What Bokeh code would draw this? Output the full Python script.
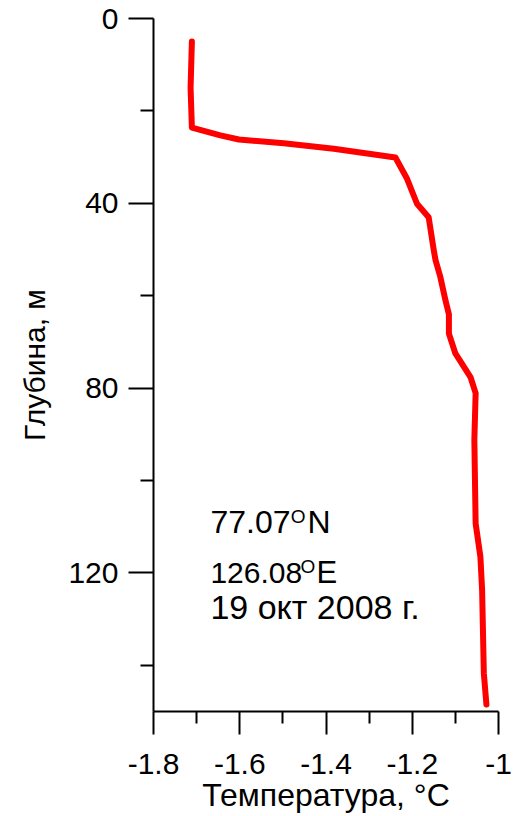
from bokeh.plotting import figure
from bokeh.models import Range1d, FixedTicker, Label
from bokeh.embed import file_html
from bokeh.resources import INLINE

# ---- data ----
depth = [5.0, 15.0, 23.6, 25.3, 26.2, 27.0, 28.2, 30.1, 34.7, 40.1, 43.0, 50.2,
         52.3, 55.9, 61.0, 64.0, 68.2, 72.5, 77.6, 81.1, 91.2, 109.3, 116.5,
         123.7, 141.7, 148.5]
temperature = [-1.711, -1.714, -1.711, -1.645, -1.602, -1.498, -1.382, -1.239,
               -1.212, -1.189, -1.162, -1.150, -1.146, -1.135, -1.123, -1.115,
               -1.115, -1.100, -1.065, -1.053, -1.056, -1.053, -1.042, -1.038,
               -1.034, -1.028]

x_ticks = [-1.8, -1.6, -1.4, -1.2, -1.0]
x_tick_labels = ["-1.8", "-1.6", "-1.4", "-1.2", "-1"]
x_minor = [-1.7, -1.5, -1.3, -1.1]
y_ticks = [0, 40, 80, 120]
y_minor = [20, 60, 100, 140]

FONT = "Liberation Sans"

p = figure(width=521, height=816, output_backend="svg", toolbar_location=None,
           x_range=Range1d(-1.8, -1.0), y_range=Range1d(150, 0),
           min_border_left=153, min_border_right=23,
           min_border_top=18, min_border_bottom=105)
p.outline_line_color = None
p.xgrid.visible = False
p.ygrid.visible = False
p.background_fill_color = "white"
p.border_fill_color = "white"

p.line(temperature, depth, line_color="#ff0000", line_width=6,
       line_join="round", line_cap="round")

for ax, ticks, minor in ((p.xaxis[0], x_ticks, x_minor), (p.yaxis[0], y_ticks, y_minor)):
    ax.ticker = FixedTicker(ticks=ticks, minor_ticks=minor)
    ax.axis_line_color = "black"
    ax.axis_line_width = 2
    ax.major_tick_line_color = "black"
    ax.major_tick_line_width = 2
    ax.minor_tick_line_color = "black"
    ax.minor_tick_line_width = 2
    ax.major_tick_in = 0
    ax.minor_tick_in = 0
    ax.major_label_text_font = FONT
    ax.major_label_text_font_size = "30px"
    ax.major_label_text_color = "black"
    ax.axis_label_text_font = FONT
    ax.axis_label_text_font_style = "normal"
    ax.axis_label_text_color = "black"

p.xaxis[0].axis_label_text_font_size = "32px"
p.yaxis[0].axis_label_text_font_size = "30px"
p.xaxis[0].major_tick_out = 23
p.xaxis[0].minor_tick_out = 12
p.yaxis[0].major_tick_out = 25
p.yaxis[0].minor_tick_out = 13
p.xaxis[0].major_label_overrides = {t: l for t, l in zip(x_ticks, x_tick_labels)}
p.xaxis[0].major_label_standoff = 19
p.yaxis[0].major_label_standoff = 10
p.xaxis[0].axis_label = "Температура, °C"
p.yaxis[0].axis_label = "Глубина, м"
p.xaxis[0].axis_label_standoff = 0
p.yaxis[0].axis_label_standoff = 14

# ---- annotation text ----
def lab(x, y, text, size):
    p.add_layout(Label(x=x, y=y, text=text, text_font=FONT, text_font_size=size,
                       text_color="black", text_baseline="alphabetic",
                       text_align="left"))

lab(-1.668, 109.0, "77.07", "32px")
lab(-1.482, 107.8, "O", "19px")
lab(-1.443, 109.0, "N", "32px")
lab(-1.668, 120.0, "126.08", "30px")
lab(-1.459, 118.6, "O", "19px")
lab(-1.422, 120.0, "E", "31px")
lab(-1.668, 127.3, "19 окт 2008 г.", "34px")

open("out.html", "w").write(file_html(p, INLINE))
